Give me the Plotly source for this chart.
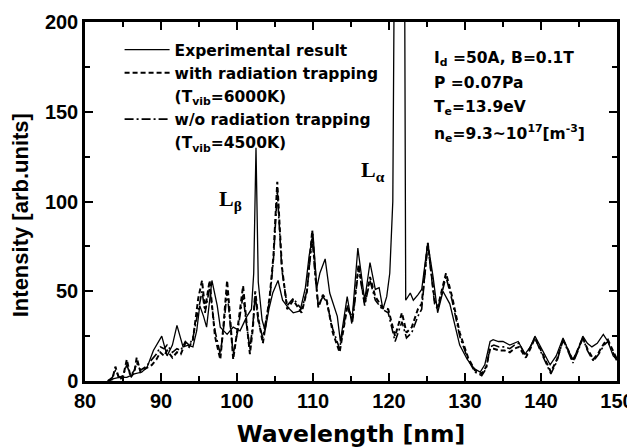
import plotly.graph_objects as go

# Experimental spectrum (solid)
wl_exp = [83.5, 84.5, 85.5, 86.5, 87.5, 88.2, 89.0, 90.1, 90.8, 91.5, 92.1, 92.9, 93.6, 94.2,
          94.7, 95.1, 95.6, 96.0, 96.7, 97.4, 97.8, 98.7, 99.5, 100.4, 101.3, 101.9, 102.2,
          102.5, 102.8, 103.3, 103.7, 104.2, 104.7, 105.4, 106.0, 106.7, 107.4, 108.3, 109.0,
          109.5, 110.0, 110.5, 110.9, 111.6, 112.2, 113.2, 113.6, 114.5, 115.1, 115.9, 116.8,
          117.5, 118.2, 118.7, 119.2, 119.7, 120.1, 120.5, 120.8, 121.4, 122.0, 122.2, 122.8,
          123.2, 123.8, 124.3, 125.1, 125.8, 126.4, 127.1, 128.0, 128.7, 129.3, 130.3, 131.2,
          132.0, 132.6, 133.3, 133.7, 134.4, 135.0, 135.9, 136.4, 137.0, 137.9, 138.6, 139.2,
          139.8, 140.3, 141.2, 142.0, 142.9, 143.6, 144.2, 144.9, 145.5, 146.1, 146.7, 147.4,
          148.2, 148.8, 149.5, 150.0]
int_exp = [1, 2, 2, 4, 5, 8, 17, 25, 14, 20, 31, 19, 20, 19,
           28, 42, 36, 30, 56, 42, 30, 26, 30, 28, 36, 40, 60,
           130, 55, 34, 28, 40, 49, 56, 45, 41, 38, 39, 52,
           70, 82, 52, 60, 68, 49, 36, 22, 47, 32, 74, 45,
           66, 51, 52, 40, 47, 60, 100, 300, 900, 300, 45, 49,
           45, 48, 51, 77, 58, 38, 50, 43, 30, 20, 12, 7,
           5, 9, 22, 23, 22, 22, 20, 21, 22, 15, 19, 25,
           20, 16, 9, 14, 24, 17, 12, 18, 25, 21, 19, 21,
           26, 22, 14, 12]

# Model spectra (with / without radiation trapping)
wl_model = [83.0, 83.6, 84.0, 84.5, 85.0, 85.5, 86.0, 86.5, 86.8, 87.3, 88.0, 88.8, 89.4, 89.9,
            90.4, 90.8, 91.5, 92.1, 92.6, 93.2, 93.7, 94.2, 94.9, 95.4, 95.8, 96.4, 97.1, 97.8,
            98.2, 98.7, 99.1, 99.5, 100.1, 100.8, 101.2, 101.7, 102.1, 102.4, 102.8, 103.4,
            103.9, 104.3, 104.8, 105.3, 105.9, 106.6, 107.4, 108.5, 109.2, 109.9, 110.3, 110.7,
            111.3, 111.8, 112.6, 113.5, 114.5, 115.2, 116.0, 116.8, 117.5, 118.2, 119.1, 119.9,
            120.8, 121.7, 122.3, 123.0, 123.8, 124.3, 125.1, 126.0, 126.4, 127.5, 128.3, 129.3,
            130.4, 131.3, 132.2, 132.8, 133.3, 133.8, 134.5, 135.2, 135.9, 136.5, 137.1, 138.0,
            138.6, 139.2, 139.9, 140.6, 141.3, 142.1, 142.9, 143.6, 144.2, 144.9, 145.5, 146.1,
            146.9, 147.6, 148.3, 148.8, 149.5, 150.0]
int_with = [0, 1, 8, 1, 2, 12, 2, 5, 13, 5, 7, 9, 12, 16,
            14, 17, 13, 16, 15, 21, 19, 23, 46, 56, 40, 56, 25, 12,
            30, 56, 35, 12, 30, 53, 35, 15, 30, 50, 35, 21,
            35, 47, 70, 111, 64, 40, 45, 38, 50, 84, 60, 41,
            48, 45, 27, 16, 41, 35, 65, 43, 58, 47, 41, 40,
            25, 38, 27, 30, 40, 43, 77, 45, 41, 60, 47, 27,
            13, 6, 4, 8, 18, 18, 17, 17, 16, 18, 19, 13,
            18, 24, 18, 11, 5, 12, 23, 17, 11, 18, 24, 18,
            12, 16, 21, 23, 16, 12]
int_wo = [0, 2, 6, 2, 3, 9, 3, 6, 10, 6, 8, 12, 15, 19,
          18, 20, 16, 18, 17, 22, 20, 24, 40, 50, 38, 52, 28, 15,
          28, 50, 32, 15, 28, 48, 33, 18, 32, 48, 33, 24,
          36, 45, 68, 106, 62, 42, 46, 40, 50, 80, 58, 42,
          47, 44, 29, 18, 42, 33, 63, 42, 56, 45, 40, 38,
          22, 33, 24, 27, 36, 40, 76, 43, 40, 58, 45, 25,
          12, 5, 3, 7, 19, 20, 19, 19, 18, 20, 21, 14,
          19, 24, 17, 10, 4, 11, 23, 16, 10, 17, 24, 17,
          11, 15, 20, 22, 15, 11]

x_ticks = [80, 90, 100, 110, 120, 130, 140, 150]
y_ticks = [0, 50, 100, 150, 200]

cond_lines = [
    "I<sub>d</sub> =50A, B=0.1T",
    "P =0.07Pa",
    "T<sub>e</sub>=13.9eV",
    "n<sub>e</sub>=9.3~10<sup>17</sup>[m<sup>-3</sup>]",
]
cond_y = [0.898, 0.830, 0.760, 0.690]

SANS = "Liberation Sans"
WIDE = "DejaVu Sans"

fig = go.Figure()
fig.add_trace(go.Scatter(x=wl_exp, y=int_exp, mode="lines", name="Experimental result",
                         line=dict(color="black", width=1.3), legendrank=1))
fig.add_trace(go.Scatter(x=wl_model, y=int_with, mode="lines", name="with radiation trapping",
                         line=dict(color="black", width=2, dash="5px,3px"), legendrank=2))
fig.add_trace(go.Scatter(x=wl_model, y=int_wo, mode="lines", name="w/o radiation trapping",
                         line=dict(color="black", width=1.6, dash="9px,3px,2px,3px"), legendrank=4))
# second lines of the legend labels (text only)
fig.add_trace(go.Scatter(x=[None], y=[None], mode="lines", name="(T<sub>vib</sub>=6000K)",
                         line=dict(color="rgba(0,0,0,0)"), legendrank=3, hoverinfo="skip"))
fig.add_trace(go.Scatter(x=[None], y=[None], mode="lines", name="(T<sub>vib</sub>=4500K)",
                         line=dict(color="rgba(0,0,0,0)"), legendrank=5, hoverinfo="skip"))

# plasma conditions, one annotation per line
for txt, yy in zip(cond_lines, cond_y):
    fig.add_annotation(text=txt, xref="paper", yref="paper", x=0.652, y=yy,
                       xanchor="left", yanchor="middle", align="left", showarrow=False,
                       font=dict(family=WIDE, size=15.5, color="black", weight="bold"))

# line labels
fig.add_annotation(text="L<sub>β</sub>", x=99.1, y=101, showarrow=False,
                   font=dict(family="Liberation Serif", size=22, color="black", weight="bold"))
fig.add_annotation(text="L<sub>α</sub>", x=117.9, y=117, showarrow=False,
                   font=dict(family="Liberation Serif", size=22, color="black", weight="bold"))

# y axis title, sits slightly below the plot centre in the original
fig.add_annotation(text="Intensity [arb.units]", xref="paper", yref="paper", x=-0.122, y=0.462,
                   textangle=-90, showarrow=False, xanchor="center", yanchor="middle",
                   font=dict(family=SANS, size=22, color="black", weight="bold"))

axis_common = dict(showline=True, linecolor="black", linewidth=2.5, mirror="allticks",
                   ticks="inside", ticklen=8, tickwidth=2, tickcolor="black",
                   showgrid=False, zeroline=False, automargin=False,
                   tickfont=dict(family=SANS, size=20, color="black", weight="bold"))

fig.update_xaxes(range=[80, 150], tickvals=x_ticks,
                 minor=dict(ticks="inside", ticklen=5, tickwidth=1.5, tickcolor="black", dtick=5),
                 title=dict(text="Wavelength [nm]",
                            font=dict(family=WIDE, size=23.5, color="black", weight="bold"),
                            standoff=15),
                 **axis_common)
fig.update_yaxes(range=[0, 200], tickvals=y_ticks,
                 minor=dict(ticks="inside", ticklen=5, tickwidth=1.5, tickcolor="black", dtick=25),
                 **axis_common)

# page body adds an 8px offset, so the figure is sized to the visible area
fig.update_layout(
    width=627, height=440,
    margin=dict(l=77, r=18, t=14, b=67),
    plot_bgcolor="white", paper_bgcolor="white",
    showlegend=True,
    legend=dict(x=0.065, y=0.969, xanchor="left", yanchor="top", bgcolor="rgba(0,0,0,0)",
                font=dict(family=WIDE, size=15.5, color="black", weight="bold"),
                itemwidth=45),
)

fig.write_html("out.html")
